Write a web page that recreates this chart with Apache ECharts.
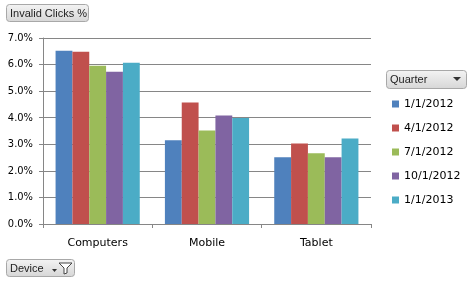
<!DOCTYPE html>
<html><head><meta charset="utf-8">
<script src="https://cdn.jsdelivr.net/npm/echarts@6/dist/echarts.min.js"></script>
<style>html,body{margin:0;padding:0;background:#fff}#c{width:473px;height:281px}</style>
</head><body><div id="c"></div>
<script>
const categories = ['Computers', 'Mobile', 'Tablet'];
const quarters = ['1/1/2012', '4/1/2012', '7/1/2012', '10/1/2012', '1/1/2013'];
const q2012_1 = [6.52, 3.15, 2.51];
const q2012_4 = [6.48, 4.57, 3.03];
const q2012_7 = [5.96, 3.52, 2.66];
const q2012_10 = [5.73, 4.08, 2.51];
const q2013_1 = [6.07, 3.99, 3.22];
const seriesValues = [q2012_1, q2012_4, q2012_7, q2012_10, q2013_1];
const colors = ['#4F81BD', '#C0504D', '#9BBB59', '#8064A2', '#4BACC6'];
const font = '"DejaVu Sans", sans-serif';
const condFont = '"DejaVu Sans Condensed", "DejaVu Sans", sans-serif';
const btnFont = '"Liberation Sans", Arial, sans-serif';

const chart = echarts.init(document.getElementById('c'), null, {renderer: 'canvas'});
const btnFill = new echarts.graphic.LinearGradient(0, 0, 0, 1, [
  {offset: 0, color: '#f4f4f4'}, {offset: 1, color: '#d6d6d6'}]);
function button(x, y, w, h, label) {
  return [
    {type: 'rect', shape: {x: x, y: y, width: w, height: h, r: 3},
     style: {fill: btnFill, stroke: '#a8a8a8', lineWidth: 1}},
    {type: 'text', x: x + 3.5, y: y + h / 2 + 0.5,
     style: {text: label, font: '11px ' + btnFont, fill: '#222', textVerticalAlign: 'middle'}}
  ];
}
const graphics = [].concat(
  button(6.5, 4.5, 82, 17, 'Invalid Clicks %'),
  button(6.5, 259.5, 68, 17, 'Device'),
  button(386.5, 70.5, 80, 18, 'Quarter'),
  [
    {type: 'polygon', shape: {points: [[453, 77], [461, 77], [457, 81]]}, style: {fill: '#333'}},
    {type: 'polygon', shape: {points: [[59, 263], [72, 263], [67, 268], [67, 273], [64, 274], [64, 268]]},
     style: {fill: '#fff', stroke: '#444', lineWidth: 1}},
    {type: 'polygon', shape: {points: [[52, 269], [57, 269], [54.5, 272]]}, style: {fill: '#333'}}
  ]
);

chart.setOption({
  animation: false,
  color: colors,
  textStyle: {fontFamily: font},
  grid: {left: 43, right: 102, top: 38, bottom: 57, containLabel: false},
  legend: {
    orient: 'vertical', left: 387, top: 92,
    itemWidth: 7, itemHeight: 7, itemGap: 10,
    icon: 'rect',
    textStyle: {fontSize: 11, color: '#000', lineHeight: 14, fontFamily: font},
    data: quarters
  },
  xAxis: {
    type: 'category', data: categories,
    axisLine: {lineStyle: {color: '#868686'}},
    axisTick: {show: true, length: 4, lineStyle: {color: '#868686'}},
    axisLabel: {color: '#000', fontSize: 11, margin: 14, fontFamily: font}
  },
  yAxis: {
    type: 'value', min: 0, max: 7, interval: 1,
    axisLine: {show: true, lineStyle: {color: '#868686'}},
    axisTick: {show: true, length: 4, lineStyle: {color: '#868686'}},
    splitLine: {lineStyle: {color: '#868686', width: 1}},
    axisLabel: {color: '#000', fontSize: 11, margin: 10, fontFamily: condFont,
      formatter: v => v.toFixed(1) + '%'}
  },
  series: quarters.map((q, i) => ({
    name: q, type: 'bar', data: seriesValues[i],
    barGap: '0%', barCategoryGap: '23%',
    itemStyle: {color: colors[i]}
  })),
  graphic: graphics
});
</script></body></html>
